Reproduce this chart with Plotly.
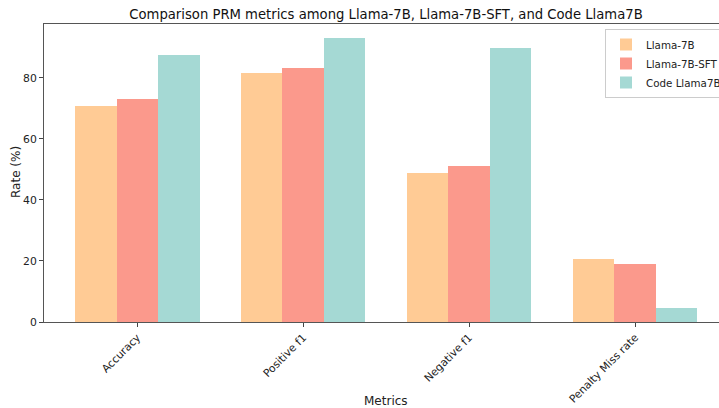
import plotly.graph_objects as go

metrics = ["Accuracy", "Positive f1", "Negative f1", "Penalty Miss rate"]
models = ["Llama-7B", "Llama-7B-SFT", "Code Llama7B"]
llama7b = [70.6, 81.6, 48.7, 20.5]
llama7b_sft = [73.0, 83.1, 51.0, 19.1]
code_llama7b = [87.6, 93.0, 89.9, 4.6]
colors = ["#FFCB95", "#FB998C", "#A5D9D4"]

series = [llama7b, llama7b_sft, code_llama7b]
offsets = [-0.25, 0.0, 0.25]
idx = list(range(len(metrics)))

fig = go.Figure()
for name, vals, off, col in zip(models, series, offsets, colors):
    fig.add_trace(go.Bar(
        x=[i + off for i in idx], y=vals, name=name, width=0.25,
        marker=dict(color=col, line=dict(width=0)),
    ))

W, H = 719, 408
L = 44        # left spine
T = 24        # top spine
BOT = 322     # bottom spine
B = H - BOT
PW, PH = W - L, BOT - T

def px(x):
    return (x - L) / PW

def py(y):
    return (BOT - y) / PH

font = "DejaVu Sans, sans-serif"
fig.update_layout(
    width=W, height=H,
    margin=dict(l=L, r=0, t=T, b=B, pad=0, autoexpand=False),
    paper_bgcolor="white", plot_bgcolor="white",
    font=dict(family=font, size=11, color="#222"),
    showlegend=True,
    hovermode=False,
    title=dict(text="Comparison PRM metrics among Llama-7B, Llama-7B-SFT, and Code Llama7B",
               x=px(386), xref="paper", xanchor="center", y=1 - 14.5 / H, yref="container",
               yanchor="middle", font=dict(size=13.2, color="#111")),
    legend=dict(x=px(605), xanchor="left", y=py(29), yanchor="top",
                bgcolor="rgba(255,255,255,0.8)", bordercolor="#ccc", borderwidth=1,
                font=dict(size=10.3), itemwidth=30, tracegroupgap=0),
    bargap=0,
    annotations=[
        dict(text="Metrics", x=px(386), xref="paper", y=py(401), yref="paper",
             showarrow=False, xanchor="center", yanchor="middle", font=dict(size=12)),
        dict(text="Rate (%)", x=px(16), xref="paper", y=py(172), yref="paper",
             showarrow=False, textangle=-90, xanchor="center", yanchor="middle", font=dict(size=12)),
    ],
)
fig.update_xaxes(
    range=[-0.5625, 3.506], tickmode="array", tickvals=idx, ticktext=metrics,
    tickangle=-45, ticks="outside", ticklen=4, tickcolor="#444",
    showline=True, linecolor="#555", linewidth=1, mirror=True,
    showgrid=False, zeroline=False, automargin=False,
    tickfont=dict(size=10.8),
)
fig.update_yaxes(
    range=[0, 97.6], tickvals=[0, 20, 40, 60, 80],
    ticks="outside", ticklen=4, tickcolor="#444",
    showline=True, linecolor="#555", linewidth=1,
    showgrid=False, zeroline=False, automargin=False,
    tickfont=dict(size=10.8),
)
fig.write_html(
    "out.html",
    config={"displayModeBar": False},
    post_script="document.body.style.margin='0';document.body.style.overflow='hidden';",
)
